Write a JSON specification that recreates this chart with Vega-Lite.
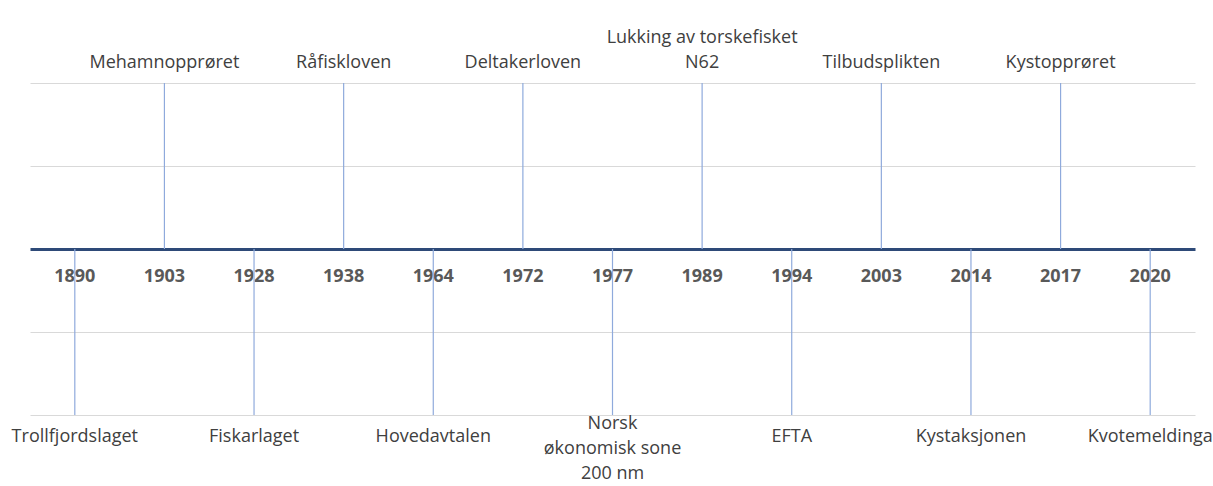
{
  "$schema": "https://vega.github.io/schema/vega-lite/v6.json",
  "width": 1165,
  "height": 332,
  "autosize": "none",
  "padding": {"left": 30, "top": 83, "right": 18, "bottom": 71},
  "background": "white",
  "config": {"view": {"stroke": null}, "font": "Open Sans"},
  "data": {"values": [
    {"year": "1890", "event": "Trollfjordslaget", "pos": -2},
    {"year": "1903", "event": "Mehamnopprøret", "pos": 2},
    {"year": "1928", "event": "Fiskarlaget", "pos": -2},
    {"year": "1938", "event": "Råfiskloven", "pos": 2},
    {"year": "1964", "event": "Hovedavtalen", "pos": -2},
    {"year": "1972", "event": "Deltakerloven", "pos": 2},
    {"year": "1977", "event": ["Norsk", "økonomisk sone", "200 nm"], "pos": -2},
    {"year": "1989", "event": ["Lukking av torskefisket", "N62"], "pos": 2},
    {"year": "1994", "event": "EFTA", "pos": -2},
    {"year": "2003", "event": "Tilbudsplikten", "pos": 2},
    {"year": "2014", "event": "Kystaksjonen", "pos": -2},
    {"year": "2017", "event": "Kystopprøret", "pos": 2},
    {"year": "2020", "event": "Kvotemeldinga", "pos": -2}
  ]},
  "encoding": {
    "x": {
      "field": "year", "type": "ordinal", "sort": null,
      "scale": {"paddingInner": 0, "paddingOuter": 0},
      "axis": {
        "title": null, "orient": "bottom", "offset": -166, "labelAngle": 0,
        "domainColor": "#2E4A78", "domainWidth": 3, "ticks": false, "grid": false,
        "labelFontWeight": "bold", "labelColor": "#595959", "labelFontSize": 18,
        "labelPadding": 18, "labelFont": "Open Sans"
      }
    },
    "y": {
      "field": "pos", "type": "quantitative",
      "scale": {"domain": [-2, 2], "nice": false, "zero": false},
      "axis": {
        "title": null, "labels": false, "ticks": false, "domain": false,
        "grid": true, "values": [-2, -1, 1, 2], "gridColor": "#D9D9D9", "gridWidth": 1
      }
    }
  },
  "layer": [
    {
      "mark": {"type": "rule", "color": "#8FAADC", "strokeWidth": 1.2},
      "encoding": {"y2": {"datum": 0}}
    },
    {
      "transform": [{"filter": "datum.pos > 0 && !isArray(datum.event)"}],
      "mark": {"type": "text", "baseline": "bottom", "dy": -11, "fontSize": 18, "color": "#404040", "lineHeight": 25},
      "encoding": {"text": {"field": "event"}}
    },
    {
      "transform": [{"filter": "datum.pos > 0 && isArray(datum.event)"}],
      "mark": {"type": "text", "baseline": "bottom", "dy": -36, "fontSize": 18, "color": "#404040", "lineHeight": 25},
      "encoding": {"text": {"field": "event"}}
    },
    {
      "transform": [{"filter": "datum.pos < 0 && !isArray(datum.event)"}],
      "mark": {"type": "text", "baseline": "middle", "dy": 22, "fontSize": 18, "color": "#404040", "lineHeight": 25},
      "encoding": {"text": {"field": "event"}}
    },
    {
      "transform": [{"filter": "datum.pos < 0 && isArray(datum.event)"}],
      "mark": {"type": "text", "baseline": "middle", "dy": 9, "fontSize": 18, "color": "#404040", "lineHeight": 25},
      "encoding": {"text": {"field": "event"}}
    }
  ]
}
